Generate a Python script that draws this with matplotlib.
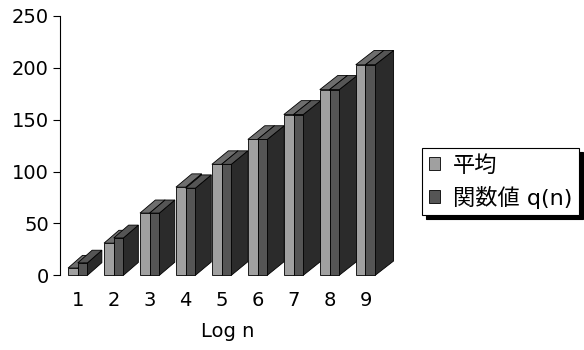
import matplotlib
matplotlib.use("Agg")
import matplotlib.pyplot as plt
from matplotlib.patches import Polygon, Patch

plt.rcParams['font.family'] = ['DejaVu Sans', 'Noto Sans CJK JP']

log_n = [1, 2, 3, 4, 5, 6, 7, 8, 9]
heikin = [7, 31, 60, 85, 107, 131, 155, 179, 203]
q_n = [12, 36, 60, 84, 107, 131, 155, 179, 203]
series_names = ['平均', '関数値 q(n)']

# front / top / side shades for each series
colors = [
    ('#a0a0a0', '#6e6e6e', '#3c3c3c'),
    ('#555555', '#555555', '#2b2b2b'),
]
bar_w = 0.27


def draw_box(ax, x0, w, h, dx, dy, shades):
    front, top, side = shades
    ax.add_patch(Polygon([(x0 + w, 0), (x0 + w + dx, dy), (x0 + w + dx, h + dy), (x0 + w, h)],
                         facecolor=side, edgecolor='black', lw=0.6, clip_on=False))
    ax.add_patch(Polygon([(x0, h), (x0 + dx, h + dy), (x0 + w + dx, h + dy), (x0 + w, h)],
                         facecolor=top, edgecolor='black', lw=0.6, clip_on=False))
    ax.bar(x0, h, width=w, align='edge', color=front, edgecolor='black', lw=0.6, clip_on=False)


fig = plt.figure(figsize=(5.84, 3.5), dpi=100)
ax = fig.add_axes([0.1027, 0.2134, 0.5736, 0.7409])

for i, x in enumerate(log_n):
    # depth of the 3D boxes grows slightly to the right
    dx = 0.40 + 0.014 * i
    dy = 12.2 + 0.2 * i
    draw_box(ax, x - bar_w, bar_w, heikin[i], dx, dy, colors[0])
    draw_box(ax, x, bar_w, q_n[i], dx, dy, colors[1])

ax.set_xlim(0.505, 9.82)
ax.set_ylim(0, 250)
ax.set_yticks(range(0, 251, 50))
ax.set_xticks(log_n)
ax.set_xticklabels([str(v) for v in log_n])
ax.tick_params(axis='y', labelsize=14, length=5, width=0.8, pad=3)
ax.tick_params(axis='x', labelsize=14, length=0, pad=11)
for s in ['top', 'right', 'bottom']:
    ax.spines[s].set_visible(False)
ax.spines['left'].set_linewidth(0.8)
ax.set_xlabel('Log n', fontsize=14, labelpad=9)

handles = [Patch(facecolor=colors[0][0], edgecolor='black', lw=0.6),
           Patch(facecolor=colors[1][0], edgecolor='black', lw=0.6)]
leg = fig.legend(handles, series_names, loc='upper left', bbox_to_anchor=(0.7226, 0.577),
                 borderaxespad=0, fontsize=16, handlelength=0.5, handleheight=0.5,
                 handletextpad=0.6, labelspacing=0.45, borderpad=0.3, fancybox=False,
                 edgecolor='black', framealpha=1,
                 shadow={'ox': 3, 'oy': -3, 'color': 'black', 'alpha': 1})
leg.get_frame().set_linewidth(0.8)

fig.savefig('out.png', dpi=100)
